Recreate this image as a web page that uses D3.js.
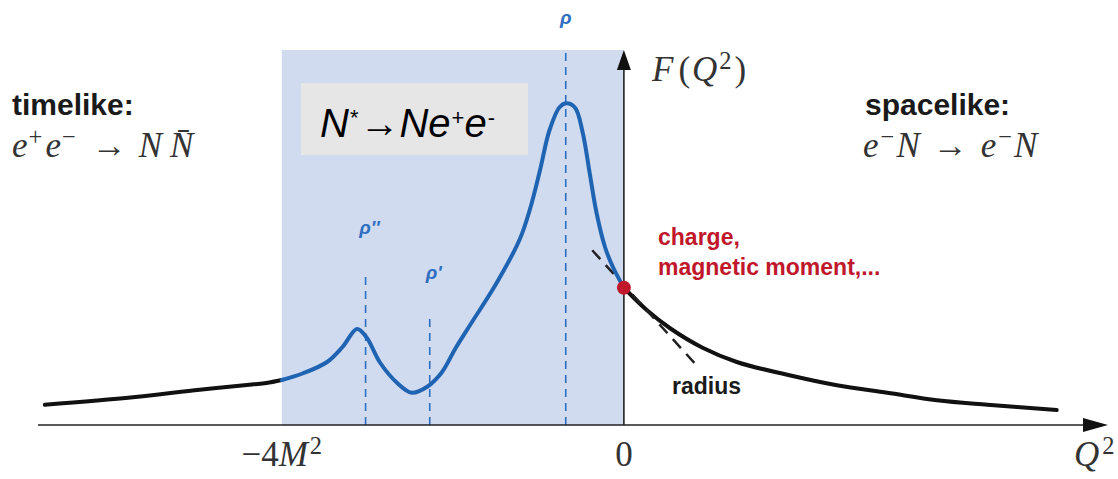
<!DOCTYPE html>
<meta charset="utf-8">
<html>
  <head>
    <title>Form factor</title>
    <script src="https://d3js.org/d3.v7.min.js"></script>
    <style>
      body { margin: 0; background: #fff; }
    </style>
  </head>
  <body>
    <div id="chart"></div>
    <script>
        // Q^2 in units of M^2, F in arbitrary units
        var timelike_q = [-6.77, -5.74, -4.96, -4.35, -4.18, -4.0];
        var timelike_f = [0.27, 0.37, 0.47, 0.54, 0.56, 0.60];

        var resonance_q = [-4.0, -3.75, -3.47, -3.29, -3.12, -3.01, -2.85, -2.65, -2.48, -2.30, -2.13, -1.97, -1.80, -1.49, -1.22, -1.10, -0.98, -0.87, -0.75, -0.67, -0.57, -0.48, -0.40, -0.32, -0.22, -0.13, 0];
        var resonance_f = [0.60, 0.69, 0.84, 1.04, 1.28, 1.17, 0.83, 0.56, 0.43, 0.51, 0.70, 1.02, 1.33, 1.89, 2.47, 2.87, 3.40, 3.93, 4.24, 4.29, 4.23, 3.89, 3.36, 2.83, 2.37, 2.11, 1.83];

        var spacelike_q = [0, 0.27, 0.54, 0.92, 1.32, 1.91, 2.49, 3.08, 3.66, 4.25, 5.06];
        var spacelike_f = [1.83, 1.53, 1.29, 1.03, 0.84, 0.67, 0.53, 0.43, 0.33, 0.27, 0.20];

        var tangent_q = [-0.37, 0.87];
        var tangent_f = [2.33, 0.77];

        var meson_names = ["\u03c1''", "\u03c1'", "\u03c1"];
        var meson_q = [-3.02, -2.27, -0.68];
        var meson_top = [2.03, 1.48, 5.0];
        var meson_label_f = [2.55, 1.95, 5.35];

        var band_q = [-4, 0];
        var tick_q = [-4, 0];

        var width = 1118, height = 479;
        var serif = "'Liberation Serif', 'Times New Roman', serif";
        var sans = "'Liberation Sans', Arial, sans-serif";

        var x = d3.scaleLinear().domain([-6.85, 5.66]).range([38, 1108]);
        var y = d3.scaleLinear().domain([0, 5]).range([425, 50]);

        var svg = d3.select("#chart").append("svg")
            .attr("width", width)
            .attr("height", height);

        var zip = function(qs, fs){ return qs.map(function(q, i){ return [q, fs[i]]; }); };

        // shaded timelike unphysical region
        svg.append("rect")
            .attr("x", x(band_q[0]))
            .attr("y", y(5))
            .attr("width", x(band_q[1]) - x(band_q[0]))
            .attr("height", y(0) - y(5))
            .attr("fill", "#d1dbef");

        // box with the Dalitz decay
        svg.append("rect")
            .attr("x", 301).attr("y", 83)
            .attr("width", 227).attr("height", 72)
            .attr("fill", "#e6e6e6");

        // resonance dashed lines
        svg.append("g").selectAll("line")
            .data(meson_q)
            .enter().append("line")
            .attr("x1", function(d){ return x(d); })
            .attr("x2", function(d){ return x(d); })
            .attr("y1", y(0))
            .attr("y2", function(d, i){ return y(meson_top[i]); })
            .attr("stroke", "#2e6fc2")
            .attr("stroke-width", 1.6)
            .attr("stroke-dasharray", "8,6");

        svg.append("g").selectAll("text")
            .data(meson_q)
            .enter().append("text")
            .attr("x", function(d, i){ return x(d) + (i == 2 ? 0 : 4); })
            .attr("y", function(d, i){ return y(meson_label_f[i]); })
            .attr("text-anchor", "middle")
            .style("font-family", sans)
            .style("font-style", "italic")
            .style("font-weight", "bold")
            .style("font-size", "19px")
            .style("fill", "#2e6fc2")
            .text(function(d, i){ return meson_names[i]; });

        // axes
        svg.append("line")
            .attr("x1", x(-6.85)).attr("x2", x(5.45))
            .attr("y1", y(0)).attr("y2", y(0))
            .attr("stroke", "#222").attr("stroke-width", 1.6);
        svg.append("path")
            .attr("d", "M" + x(5.66) + "," + y(0) + "L" + (x(5.66) - 25) + "," + (y(0) - 7) + "L" + (x(5.66) - 25) + "," + (y(0) + 7) + "Z")
            .attr("fill", "#111");

        svg.append("line")
            .attr("x1", x(0)).attr("x2", x(0))
            .attr("y1", y(0)).attr("y2", y(4.8))
            .attr("stroke", "#222").attr("stroke-width", 1.6);
        svg.append("path")
            .attr("d", "M" + x(0) + "," + y(5) + "L" + (x(0) - 7) + "," + (y(5) + 20) + "L" + (x(0) + 7) + "," + (y(5) + 20) + "Z")
            .attr("fill", "#111");

        // curves
        var line = d3.line()
            .x(function(d){ return x(d[0]); })
            .y(function(d){ return y(d[1]); })
            .curve(d3.curveCatmullRom.alpha(0.5));

        svg.append("path")
            .attr("d", line(zip(timelike_q, timelike_f)))
            .attr("fill", "none").attr("stroke", "#111").attr("stroke-width", 4).attr("stroke-linecap", "round");
        svg.append("path")
            .attr("d", line(zip(spacelike_q, spacelike_f)))
            .attr("fill", "none").attr("stroke", "#111").attr("stroke-width", 4).attr("stroke-linecap", "round");

        svg.append("line")
            .attr("x1", x(tangent_q[0])).attr("y1", y(tangent_f[0]))
            .attr("x2", x(tangent_q[1])).attr("y2", y(tangent_f[1]))
            .attr("stroke", "#222").attr("stroke-width", 2.5)
            .attr("stroke-dasharray", "12,8");

        svg.append("path")
            .attr("d", line(zip(resonance_q, resonance_f)))
            .attr("fill", "none").attr("stroke", "#1f63b3").attr("stroke-width", 4).attr("stroke-linecap", "round");

        svg.append("circle")
            .attr("cx", x(0)).attr("cy", y(spacelike_f[0]))
            .attr("r", 7)
            .attr("fill", "#c0172b");

        // text helper: parts of [text, italic, superscript, dx]
        function rich(xpos, ypos, parts, size, family, color, sup){
            sup = sup || {scale: 0.68, rise: 0.42};
            var t = svg.append("text")
                .attr("x", xpos).attr("y", ypos)
                .style("font-family", family)
                .style("font-size", size + "px")
                .style("fill", color);
            var shift = 0;
            parts.forEach(function(p){
                var target = p[2] ? -size * sup.rise : 0;
                t.append("tspan")
                    .attr("dy", target - shift)
                    .attr("dx", p[3] || 0)
                    .style("font-style", p[1] ? "italic" : "normal")
                    .style("font-size", p[2] ? (size * sup.scale) + "px" : null)
                    .text(p[0]);
                shift = target;
            });
            return t;
        }

        var label = function(xpos, ypos, txt, size, color){
            svg.append("text")
                .attr("x", xpos).attr("y", ypos)
                .style("font-family", sans)
                .style("font-weight", "bold")
                .style("font-size", size + "px")
                .style("fill", color)
                .text(txt);
        };

        label(12, 115, "timelike:", 30, "#1a1a1a");
        label(865, 115, "spacelike:", 30, "#1a1a1a");
        label(658, 245, "charge,", 23, "#c0172b");
        label(658, 275, "magnetic moment,...", 23, "#c0172b");
        label(672, 394, "radius", 23, "#1a1a1a");

        var msup = {scale: 0.7, rise: 0.33};
        rich(12, 157, [["e", 1], ["+", 0, 1, 1], ["e", 1, 0, 3], ["\u2212", 0, 1, 1], ["\u2192", 0, 0, 16], ["N", 1, 0, 12], ["N\u0304", 1, 0, 8]], 35, serif, "#333", msup);
        rich(863, 157, [["e", 1], ["\u2212", 0, 1, 2], ["N", 1, 0, 2], ["\u2192", 0, 0, 13], ["e", 1, 0, 13], ["\u2212", 0, 1, 2], ["N", 1, 0, 2]], 35, serif, "#333", msup);
        rich(652, 81, [["F", 1], ["(", 0, 0, 5], ["Q", 1, 0, 2], ["2", 0, 1, 2], [")", 0, 0, 3]], 35, serif, "#333", msup);

        rich(320, 137, [["N", 1], ["*", 0, 1, 1], ["\u2192", 0, 0, 1], ["Ne", 1], ["+", 0, 1, 1], ["e", 1], ["-", 0, 1, 1]], 40, sans, "#000", {scale: 0.55, rise: 0.3});

        // tick labels
        rich(x(tick_q[0]), 466, [["\u2212", 0], ["4", 0], ["M", 1], ["2", 0, 1, 2]], 35, serif, "#333", msup).attr("text-anchor", "middle");
        rich(x(tick_q[1]), 466, [["0", 0]], 35, serif, "#333").attr("text-anchor", "middle");
        rich(1074, 466, [["Q", 1], ["2", 0, 1, 3]], 35, serif, "#333", msup);
    </script>
  </body>
</html>
